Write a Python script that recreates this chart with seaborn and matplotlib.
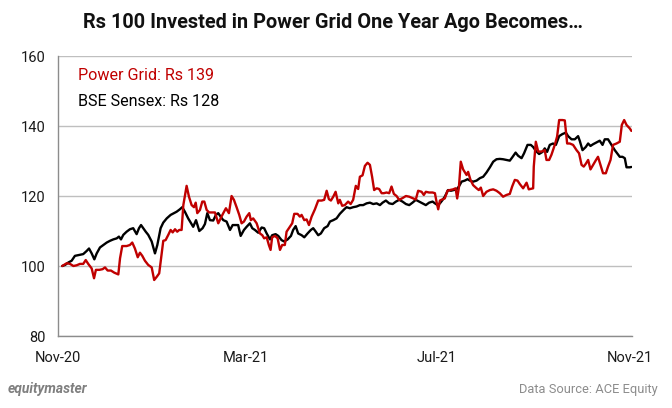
import numpy as np
import pandas as pd
import matplotlib
matplotlib.use("Agg")
import matplotlib.pyplot as plt
import matplotlib.dates as mdates
import seaborn as sns

# ---- data (days since 2020-11-01, value of Rs 100 invested) ----
start_date = "2020-11-01"
series_names = ["Power Grid", "BSE Sensex"]
series_colors = ["#c00000", "#000000"]
tick_dates = ["2020-11-01", "2021-03-01", "2021-07-01", "2021-11-01"]
yticks = [80, 100, 120, 140, 160]
title = "Rs 100 Invested in Power Grid One Year Ago Becomes\u2026"
label_pg = "Power Grid: Rs 139"
label_sx = "BSE Sensex: Rs 128"

sx_days = [2.7, 4.5, 6.6, 8.7, 10.8, 13.0, 16.1, 18.3, 19.8, 21.5,
           23.2, 24.7, 26.8, 28.9, 31.1, 33.2, 35.3, 37.5, 38.9, 40.2,
           41.7, 43.8, 45.9, 48.0, 50.2, 51.7, 53.0, 54.4, 56.0, 57.6,
           59.8, 61.9, 63.4, 65.5, 67.2, 69.4, 71.9, 74.0, 75.7, 77.8,
           79.3, 81.0, 83.1, 84.7, 86.3, 88.1, 90.2, 92.3, 93.8, 95.3,
           97.0, 99.1, 100.8, 102.3, 103.8, 105.5, 107.6, 109.8, 111.5, 113.6,
           115.0, 116.6, 118.7, 120.4, 122.5, 124.0, 125.7, 127.8, 130.0, 131.6,
           133.2, 135.3, 136.7, 138.9, 140.6, 142.7, 144.4, 146.6, 148.7, 150.1,
           151.7, 153.3, 155.5, 157.2, 159.3, 161.4, 162.9, 164.4, 166.1, 167.8,
           169.9, 172.1, 173.6, 175.7, 177.8, 179.9, 182.7, 184.2, 186.3, 188.4,
           190.6, 192.7, 194.8, 197.0, 199.1, 201.2, 203.4, 205.5, 207.2, 209.3,
           211.4, 213.6, 215.7, 217.8, 219.9, 222.1, 224.2, 226.3, 228.4, 230.5,
           232.7, 234.8, 236.9, 239.1, 240.6, 242.3, 243.8, 245.2, 246.9, 249.0,
           250.8, 252.5, 254.4, 255.9, 257.6, 259.7, 261.4, 262.9, 265.0, 267.2,
           269.3, 271.4, 273.5, 275.7, 277.8, 279.9, 282.0, 284.1, 286.3, 288.4,
           289.9, 292.1, 293.7, 295.9, 297.5, 299.7, 301.8, 303.3, 305.0, 307.1,
           309.3, 310.7, 312.2, 313.9, 316.0, 317.8, 319.9, 322.0, 324.2, 325.6,
           327.8, 329.9, 332.0, 333.1, 334.8, 336.9, 338.4, 339.9, 341.6, 343.7,
           345.8, 347.6, 349.0, 351.1, 353.3, 355.4, 356.9, 358.6, 360.3, 361.8,
           362.9, 365.0, 366.0]
sx_vals = [100, 100.3, 101, 101.5, 102.9, 103.1, 103.4, 104.3, 105, 103.6,
           101.9, 103.6, 105.3, 106, 106.7, 107.2, 107.6, 107.9, 108.4, 107.6,
           108.9, 109.8, 110.5, 110.8, 109.1, 110.8, 111.7, 110.8, 109.8, 108.9,
           107.0, 103.6, 106, 110.8, 112.4, 113.6, 114.6, 115.1, 115.5, 116.2,
           116.8, 115.5, 113.6, 112.4, 111.2, 113.1, 110, 110.8, 112, 115.1,
           113.1, 113, 114.6, 115.1, 114.1, 113.1, 112.7, 110.3, 111.7, 111.7,
           111.7, 108.6, 110.3, 111.2, 112.2, 110.8, 110.3, 109.5, 111, 110.8,
           109.3, 107.6, 108.8, 109.1, 108.6, 107.4, 107, 107.6, 108.6, 110.3,
           111.4, 109.3, 108.8, 108.2, 109.3, 110.3, 110.8, 109.9, 108.8, 109.3,
           110.8, 111.4, 112.7, 113.1, 113.6, 114.9, 116.2, 116.8, 116.5, 116.8,
           117, 117.4, 117.4, 117.9, 118.1, 117.7, 117.9, 117.4, 118.1, 118.7,
           117.9, 117.7, 118.4, 118.9, 118.4, 117.7, 117.4, 118.1, 118.9, 118.4,
           117.9, 117.4, 118.1, 118.4, 117.9, 117.4, 117.9, 118.7, 119.8, 121.7,
           121.5, 121.7, 121.9, 122.7, 124.1, 124.4, 124.8, 124.4, 124.1, 124.4,
           125.1, 125.5, 126.7, 128.2, 129.8, 130.5, 130.6, 130.5, 130.3, 130.1,
           131, 132.4, 131.5, 130.8, 132.2, 134.6, 134.6, 134, 132.9, 132,
           132.6, 133.6, 132.6, 134.6, 135, 134.6, 137.1, 137.7, 138.1, 137.1,
           136.2, 136.2, 137.1, 135.7, 133.1, 134, 135, 134.3, 134.8, 135.3,
           135.8, 134.6, 136.2, 136.2, 134.6, 133.1, 132.2, 131.2, 131.2, 130.8,
           128.2, 128.2, 128.3]

pg_days = [2.7, 5.6, 7.7, 9.8, 11.9, 14.0, 16.1, 17.7, 19.3, 21.5,
           23.0, 24.2, 26.4, 28.5, 30.0, 31.7, 33.8, 35.9, 38.5, 39.6,
           41.0, 43.8, 45.9, 47.4, 49.1, 50.9, 52.3, 53.8, 55.5, 57.6,
           59.8, 61.4, 63.0, 64.6, 66.2, 67.2, 68.7, 70.4, 71.9, 73.2,
           74.7, 76.1, 77.4, 78.9, 80.0, 82.1, 83.6, 85.3, 86.8, 87.9,
           88.9, 90.6, 92.1, 93.4, 94.9, 96.5, 98.1, 100.2, 102.3, 103.8,
           105.5, 107.2, 109.1, 110.8, 112.3, 114.0, 115.7, 117.2, 118.7, 120.4,
           122.1, 123.1, 124.6, 126.8, 128.9, 130.4, 131.6, 133.2, 134.6, 135.7,
           136.7, 138.5, 140.2, 141.7, 143.1, 144.8, 145.9, 148.0, 149.5, 150.8,
           152.9, 154.4, 155.5, 157.2, 158.7, 160.2, 161.9, 164.0, 166.1, 168.3,
           169.9, 171.5, 172.9, 174.2, 175.7, 177.2, 178.9, 179.9, 181.4, 183.1,
           185.2, 186.8, 188.4, 190.1, 191.6, 192.7, 194.4, 195.9, 197.6, 199.1,
           200.5, 201.8, 203.4, 205.0, 206.6, 208.0, 209.7, 211.4, 212.9, 214.4,
           216.1, 217.8, 219.9, 222.1, 224.2, 226.3, 228.4, 229.9, 232.1, 233.5,
           234.8, 236.9, 239.1, 240.6, 241.6, 242.7, 243.8, 245.2, 246.9, 248.6,
           250.1, 252.2, 253.8, 254.8, 255.9, 257.1, 258.6, 260.8, 261.8, 263.3,
           265.0, 267.2, 268.6, 269.9, 271.4, 273.5, 275.7, 277.8, 279.9, 282.0,
           284.1, 286.3, 288.4, 289.9, 291.6, 293.3, 294.8, 296.9, 299.1, 300.5,
           303.3, 303.7, 305.0, 306.5, 308.6, 310.7, 311.8, 313.5, 315.0, 317.1,
           318.6, 319.9, 322.0, 323.5, 325.0, 326.7, 328.8, 331.0, 332.6, 334.2,
           335.6, 336.9, 338.4, 339.9, 341.6, 343.3, 344.7, 346.3, 347.9, 349.7,
           351.1, 352.7, 354.3, 356.5, 358.6, 359.9, 361.4, 362.9, 365.0, 366.0]
pg_vals = [100, 100.8, 100.6, 100, 100.2, 100.6, 100.6, 101.7, 100.6, 99.3,
           96.5, 98.9, 98.9, 99.1, 99.6, 98.7, 98.7, 98.1, 97.6, 102.2,
           105.7, 105.7, 106, 106.7, 105, 102.5, 103.8, 102.9, 101.5, 100.3,
           99.6, 96, 96.9, 97.9, 103.6, 107.2, 107.4, 108.9, 110.3, 109.6,
           110.5, 109.8, 110.3, 110.3, 117.4, 122.9, 119.8, 117.4, 116.8, 118.1,
           115.1, 116, 118.4, 118.4, 116, 115.3, 115.3, 115.3, 112.2, 113.6,
           115.1, 116.5, 115.1, 120, 118.9, 116.8, 114.6, 112.2, 112.7, 114.1,
           115.1, 113.1, 113.6, 112.2, 109.3, 108.8, 107.9, 108.2, 106, 104.6,
           108.2, 108.6, 107.9, 104.6, 106, 106, 109.8, 111.2, 112.2, 114.9,
           114.9, 114.1, 114.6, 113.1, 113.3, 111.7, 114.1, 116.2, 118.7, 118.7,
           118.9, 121.5, 119.1, 118.7, 119.8, 121.2, 117.9, 118.9, 117.2, 117.4,
           118.4, 117.7, 118.9, 122.9, 122, 125.5, 125.9, 128.6, 129.5, 128.9,
           125.5, 121.7, 122.2, 122, 120.8, 120.8, 121, 120.8, 122.7, 120.6,
           120, 118.9, 119.4, 120, 119.8, 119.4, 119, 121.5, 121.2, 120.3,
           121.2, 121, 121, 120.8, 118.4, 116.2, 118.7, 119, 119.3, 121.5,
           121.7, 121.9, 122.2, 119.3, 122.4, 129.8, 127.6, 126, 126.9, 124.6,
           123.1, 122.2, 121.7, 122.4, 120, 121.2, 121.7, 121.9, 121.5, 120.8,
           119.8, 120.3, 120.6, 122.7, 124.6, 124.4, 123.4, 122.2, 123.8, 121.9,
           122.2, 128.4, 135.5, 132.7, 132.7, 133.1, 130.3, 130.3, 131.8, 134.6,
           137, 141.7, 141.7, 141.6, 135, 135, 134.6, 133.1, 132.2, 128.9,
           128.4, 129.2, 130.3, 127.6, 128.9, 130.2, 131.2, 128.9, 126.5, 126.5,
           128.4, 130.3, 134.6, 135, 135.5, 140.3, 141.7, 140.3, 139.3, 138.6]

# ---- build tidy frame ----
t0 = pd.Timestamp(start_date)
df_pg = pd.DataFrame({"date": t0 + pd.to_timedelta(pg_days, unit="D"),
                      "value": pg_vals, "series": series_names[0]})
df_sx = pd.DataFrame({"date": t0 + pd.to_timedelta(sx_days, unit="D"),
                      "value": sx_vals, "series": series_names[1]})
df = pd.concat([df_sx, df_pg], ignore_index=True)

sns.set_theme(style="white")
plt.rcParams["font.family"] = ["Roboto", "DejaVu Sans"]

fig = plt.figure(figsize=(6.72, 4.08), dpi=100)
ax = fig.add_axes([58 / 672, 1 - 336 / 408, 574 / 672, 280 / 408])

sns.lineplot(data=df, x="date", y="value", hue="series",
             hue_order=[series_names[1], series_names[0]],
             palette=[series_colors[1], series_colors[0]],
             linewidth=1.7, legend=False, ax=ax, estimator=None, sort=False)

ax.set_ylim(yticks[0], yticks[-1])
ax.set_yticks(yticks)
ax.set_xlim(t0, pd.Timestamp(tick_dates[-1]) + pd.Timedelta(days=1.4))
ax.set_xticks([pd.Timestamp(d) for d in tick_dates])
ax.xaxis.set_major_formatter(mdates.DateFormatter("%b-%y"))
ax.set_xlabel("")
ax.set_ylabel("")

ax.grid(axis="y", color="#bfbfbf", linewidth=1.0)
ax.set_axisbelow(True)
for s in ["top", "right"]:
    ax.spines[s].set_visible(False)
for s in ["left", "bottom"]:
    ax.spines[s].set_color("#8c8c8c")
    ax.spines[s].set_linewidth(1.0)
ax.tick_params(axis="both", which="both", direction="out", length=5,
               width=1.0, color="#8c8c8c", labelsize=10.5, labelcolor="#1a1a1a")
ax.tick_params(axis="x", pad=6)
ax.tick_params(axis="y", pad=4)

fig.text(333 / 672, 1 - 22 / 408, title, ha="center", va="center",
         fontsize=14.3, fontweight="bold", color="#111111")
ax.text(78 / 672, 1 - 75 / 408, label_pg, transform=fig.transFigure,
        ha="left", va="center", fontsize=11.6, color=series_colors[0])
ax.text(78 / 672, 1 - 102 / 408, label_sx, transform=fig.transFigure,
        ha="left", va="center", fontsize=11.6, color="#000000")

fig.text(8 / 672, 1 - 389 / 408, "equitymaster", ha="left", va="center",
         fontsize=10, fontweight="bold", style="italic", color="#7f7f7f")
fig.text(658 / 672, 1 - 389 / 408, "Data Source: ACE Equity", ha="right",
         va="center", fontsize=9.3, color="#8c8c8c")

fig.savefig("out.png", dpi=100)
